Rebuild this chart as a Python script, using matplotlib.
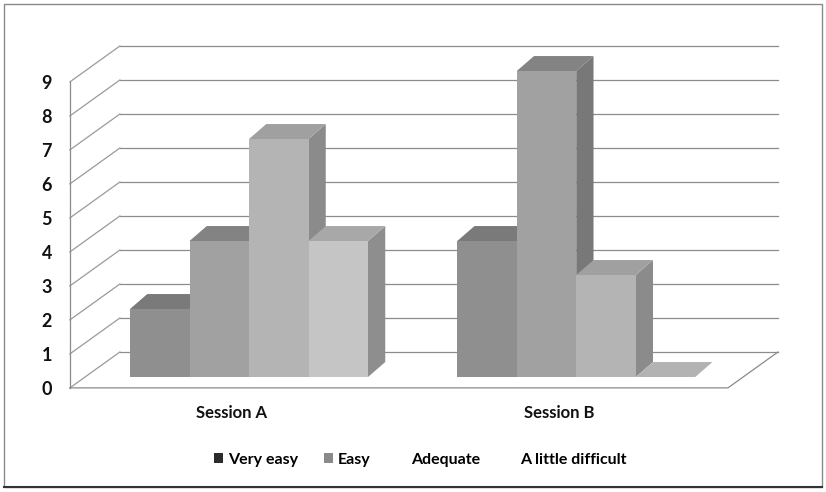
import matplotlib
matplotlib.use("Agg")
import matplotlib.pyplot as plt
from matplotlib.patches import Polygon, Rectangle
from matplotlib.lines import Line2D
from matplotlib.font_manager import FontProperties

# ---- data ----
categories = ["Session A", "Session B"]
series_names = ["Very easy", "Easy", "Adequate", "A little difficult"]
very_easy = [2, 4]
easy = [4, 9]
adequate = [7, 3]
little_difficult = [4, 0]
y_ticks = [0, 1, 2, 3, 4, 5, 6, 7, 8, 9]

values = [very_easy, easy, adequate, little_difficult]

# ---- style ----
front_colors = ["#8f8f8f", "#a1a1a1", "#b4b4b4", "#c5c5c5"]
top_colors = ["#7a7a7a", "#838383", "#a0a0a0", "#a8a8a8"]
side_colors = ["#6f6f6f", "#787878", "#8b8b8b", "#8e8e8e"]
legend_colors = ["#2b2b2b", "#8a8a8a", "none", "none"]
grid_color = "#8c8c8c"

BAR_W = 1.0
GROUP_GAP = 5.5
DX, DY = 0.29, 0.44          # bar depth projection
FRONT, BACK = -0.32, 0.735   # wall planes (value shift)
FL_X, BL_X = -3.01, -2.17    # left wall front/back x
FR_X, BR_X = 8.05, 8.89      # floor right front/back x

fig = plt.figure(figsize=(8.26, 4.92), dpi=100)
ax = fig.add_axes([0, 0, 1, 1])
ax.set_xlim(-249 / 59.5, (826 - 249) / 59.5)
ax.set_ylim(-(492 - 377) / 34, 377 / 34)
ax.axis("off")

font_b = FontProperties(family=["Lato", "DejaVu Sans"], weight="bold", size=12)
font_t = FontProperties(family=["Lato", "DejaVu Sans"], weight="bold", size=13)

# walls and gridlines
ymax = max(y_ticks)
for v in y_ticks:
    ax.add_line(Line2D([BL_X, BR_X], [v + BACK, v + BACK], color=grid_color, lw=0.9, zorder=1))
    ax.add_line(Line2D([FL_X, BL_X], [v + FRONT, v + BACK], color="#9a9a9a", lw=0.9, zorder=1))
    ax.text(FL_X - 0.3, v + FRONT - 0.05, str(v), ha="right", va="center",
            fontproperties=font_t, color="#111111")
ax.add_line(Line2D([FL_X, FL_X], [FRONT, ymax + FRONT], color="#8a8a8a", lw=0.9, zorder=1))
ax.add_line(Line2D([FL_X, FR_X, BR_X], [FRONT, FRONT, BACK], color="#8a8a8a", lw=0.9, zorder=1))

# bars
z = 3
for g, cat in enumerate(categories):
    center = g * GROUP_GAP
    for i, vals in enumerate(values):
        v = vals[g]
        left = center + (i - 2) * BAR_W
        right = left + BAR_W
        if v > 0:
            ax.add_patch(Polygon([(right, 0), (right + DX, DY), (right + DX, v + DY), (right, v)],
                                 closed=True, facecolor=side_colors[i], edgecolor="none", zorder=z))
            ax.add_patch(Rectangle((left, 0), BAR_W, v, facecolor=front_colors[i],
                                   edgecolor="none", zorder=z + 1))
            top_c = top_colors[i]
        else:
            top_c = "#b3b3b3"
        ax.add_patch(Polygon([(left, v), (right, v), (right + DX, v + DY), (left + DX, v + DY)],
                             closed=True, facecolor=top_c, edgecolor="none", zorder=z + 1))
        z += 2
    ax.text(center - 0.29, -1.06, cat, ha="center", va="center",
            fontproperties=font_b, color="#111111")

# legend
handles = [Rectangle((0, 0), 1, 1, facecolor=c, edgecolor="none") for c in legend_colors]
fig.legend(handles, series_names, loc="center", bbox_to_anchor=(420 / 826, 1 - 460 / 492),
           ncol=4, frameon=False, handlelength=0.6, handleheight=0.6, handletextpad=0.3,
           columnspacing=1.6, prop=FontProperties(family=["Lato", "DejaVu Sans"], weight="bold", size=11.5))

# outer frame
fig.patches.append(Rectangle((4 / 826, 1 - 487 / 492), 818 / 826, 483 / 492,
                             transform=fig.transFigure, fill=False, edgecolor="#8a8a8a", lw=1.0))
fig.lines.append(Line2D([4 / 826, 822 / 826], [1 - 487 / 492, 1 - 487 / 492],
                        transform=fig.transFigure, color="#333333", lw=1.5))

fig.savefig("out.png", dpi=100)
